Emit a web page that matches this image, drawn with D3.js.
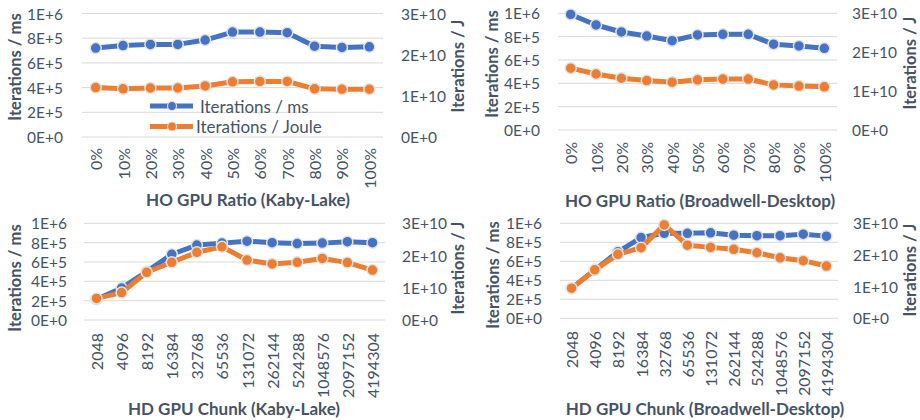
<!DOCTYPE html>
<html>
<head>
<meta charset="utf-8">
<script src="https://cdn.jsdelivr.net/npm/d3@7"></script>
<style>
  body { margin: 0; background: #fff; }
  text { font-family: Lato, "Open Sans", sans-serif; fill: #465366; }
</style>
</head>
<body>
<svg id="chart" width="920" height="420"></svg>
<script>
// Categories
const ratioLabels = ['0%', '10%', '20%', '30%', '40%', '50%', '60%', '70%', '80%', '90%', '100%'];
const chunkLabels = ['2048', '4096', '8192', '16384', '32768', '65536', '131072',
    '262144', '524288', '1048576', '2097152', '4194304'];

// Series values
const kabyRatioMs    = [7.2e5, 7.4e5, 7.5e5, 7.5e5, 7.85e5, 8.5e5, 8.5e5, 8.45e5, 7.35e5, 7.25e5, 7.3e5];
const kabyRatioJ     = [1.20e10, 1.17e10, 1.19e10, 1.19e10, 1.24e10, 1.34e10, 1.35e10, 1.35e10, 1.17e10, 1.16e10, 1.16e10];
const bdwRatioMs     = [9.9e5, 9.0e5, 8.4e5, 8.05e5, 7.65e5, 8.15e5, 8.2e5, 8.2e5, 7.35e5, 7.2e5, 7.0e5];
const bdwRatioJ      = [1.59e10, 1.44e10, 1.33e10, 1.27e10, 1.23e10, 1.29e10, 1.31e10, 1.31e10, 1.16e10, 1.13e10, 1.11e10];
const kabyChunkMs    = [2.15e5, 3.3e5, 5.0e5, 6.8e5, 7.75e5, 7.95e5, 8.15e5, 8.0e5, 7.9e5, 7.95e5, 8.1e5, 8.0e5];
const kabyChunkJ     = [6.7e9, 8.5e9, 1.48e10, 1.79e10, 2.10e10, 2.27e10, 1.86e10, 1.74e10, 1.79e10, 1.91e10, 1.78e10, 1.55e10];
const bdwChunkMs     = [3.15e5, 5.1e5, 7.0e5, 8.5e5, 8.95e5, 8.95e5, 9.0e5, 8.75e5, 8.7e5, 8.7e5, 8.85e5, 8.65e5];
const bdwChunkJ      = [9.5e9, 1.53e10, 2.02e10, 2.23e10, 2.95e10, 2.31e10, 2.24e10, 2.18e10, 2.07e10, 1.91e10, 1.82e10, 1.65e10];

// Tick labels
const leftTicks = [0, 2e5, 4e5, 6e5, 8e5, 1e6];
const rightTicks = [0, 1e10, 2e10, 3e10];

const seriesNames = ['Iterations / ms', 'Iterations / Joule'];
const BLUE = '#4472c4';
const ORANGE = '#ed7d31';

const svg = d3.select('#chart');

// 1E+6 style labels
function sci(d) {
    if (d === 0) return '0E+0';
    const e = Math.floor(Math.log10(d));
    return Math.round(d / Math.pow(10, e)) + 'E+' + e;
}

function drawPanel(p) {
    const x = d3.scaleBand().domain(p.labels).range(p.xRange);
    const yL = d3.scaleLinear().domain([0, 1e6]).range(p.yRange);
    const yR = d3.scaleLinear().domain([0, 3e10]).range(p.yRange);
    const g = svg.append('g');

    // gridlines
    g.selectAll('.grid')
        .data(leftTicks)
        .join('line')
        .attr('x1', p.xRange[0]).attr('x2', p.xRange[1])
        .attr('y1', d => yL(d)).attr('y2', d => yL(d))
        .attr('stroke', '#d9d9d9').attr('stroke-width', 1);

    // left axis labels
    g.selectAll('.lt')
        .data(leftTicks)
        .join('text')
        .attr('x', p.leftTickX).attr('y', d => yL(d))
        .attr('text-anchor', 'end').attr('dominant-baseline', 'central')
        .style('font-size', '15.5px')
        .text(sci);

    // right axis labels
    g.selectAll('.rt')
        .data(rightTicks)
        .join('text')
        .attr('x', p.rightTickX).attr('y', d => yR(d))
        .attr('text-anchor', 'start').attr('dominant-baseline', 'central')
        .style('font-size', '15.5px')
        .text(sci);

    // axis titles
    g.append('text')
        .attr('transform', `translate(${p.leftTitleX},${p.leftTitleY}) rotate(-90)`)
        .attr('text-anchor', 'middle').attr('dominant-baseline', 'central')
        .style('font-size', '16.5px').style('font-weight', 'bold')
        .text('Iterations / ms');
    g.append('text')
        .attr('transform', `translate(${p.rightTitleX},${p.rightTitleY}) rotate(-90)`)
        .attr('text-anchor', 'middle').attr('dominant-baseline', 'central')
        .style('font-size', '16.5px').style('font-weight', 'bold')
        .text('Iterations / J');

    // x category labels
    g.selectAll('.xt')
        .data(p.labels)
        .join('text')
        .attr('transform', d => `translate(${x(d) + x.bandwidth() / 2},${p.xTickTop}) rotate(-90)`)
        .attr('text-anchor', 'end').attr('dominant-baseline', 'central')
        .style('font-size', '16px')
        .text(d => d);

    g.append('text')
        .attr('x', p.titleX).attr('y', p.titleY)
        .attr('text-anchor', 'middle').attr('dominant-baseline', 'central')
        .style('font-size', '17px').style('font-weight', 'bold')
        .text(p.title);

    // series
    const series = [
        { values: p.ms, y: yL, color: BLUE },
        { values: p.joule, y: yR, color: ORANGE }
    ];
    series.forEach(s => {
        const line = d3.line()
            .x((d, i) => x(p.labels[i]) + x.bandwidth() / 2)
            .y(d => s.y(d));
        g.append('path')
            .datum(s.values)
            .attr('d', line)
            .attr('fill', 'none')
            .attr('stroke', s.color)
            .attr('stroke-width', 5)
            .attr('stroke-linejoin', 'round');
        g.selectAll(null)
            .data(s.values)
            .join('circle')
            .attr('cx', (d, i) => x(p.labels[i]) + x.bandwidth() / 2)
            .attr('cy', d => s.y(d))
            .attr('r', 5.5)
            .attr('fill', s.color)
            .attr('stroke', '#e2e2e2')
            .attr('stroke-width', 1.5);
    });
}

drawPanel({
    labels: ratioLabels, ms: kabyRatioMs, joule: kabyRatioJ,
    xRange: [82, 383], yRange: [137, 13.5],
    leftTickX: 63, rightTickX: 401,
    leftTitleX: 15, leftTitleY: 67, rightTitleX: 458, rightTitleY: 66,
    xTickTop: 148, title: 'HO GPU Ratio (Kaby-Lake)', titleX: 248, titleY: 199
});
drawPanel({
    labels: ratioLabels, ms: bdwRatioMs, joule: bdwRatioJ,
    xRange: [558, 837], yRange: [130, 13.3],
    leftTickX: 540, rightTickX: 852,
    leftTitleX: 492, leftTitleY: 64, rightTitleX: 910, rightTitleY: 63,
    xTickTop: 142, title: 'HO GPU Ratio (Broadwell-Desktop)', titleX: 700, titleY: 200
});
drawPanel({
    labels: chunkLabels, ms: kabyChunkMs, joule: kabyChunkJ,
    xRange: [84, 385], yRange: [320, 223.3],
    leftTickX: 67, rightTickX: 402,
    leftTitleX: 15, leftTitleY: 278, rightTitleX: 458, rightTitleY: 268,
    xTickTop: 333, title: 'HD GPU Chunk (Kaby-Lake)', titleX: 234, titleY: 408
});
drawPanel({
    labels: chunkLabels, ms: bdwChunkMs, joule: bdwChunkJ,
    xRange: [560, 838], yRange: [318.3, 223.3],
    leftTickX: 542, rightTickX: 853,
    leftTitleX: 493, leftTitleY: 275, rightTitleX: 910, rightTitleY: 270,
    xTickTop: 331, title: 'HD GPU Chunk (Broadwell-Desktop)', titleX: 705, titleY: 408
});

// legend (first panel)
const legend = svg.append('g');
[BLUE, ORANGE].forEach((c, i) => {
    const ly = 106 + i * 20.5;
    legend.append('line')
        .attr('x1', 150).attr('x2', 193).attr('y1', ly).attr('y2', ly)
        .attr('stroke', c).attr('stroke-width', 5);
    legend.append('circle')
        .attr('cx', 172).attr('cy', ly).attr('r', 4.5)
        .attr('fill', c).attr('stroke', '#e2e2e2').attr('stroke-width', 1.2);
    legend.append('text')
        .attr('x', i === 0 ? 200 : 196).attr('y', ly)
        .attr('dominant-baseline', 'central')
        .style('font-size', '17px')
        .text(seriesNames[i]);
});
</script>
</body>
</html>
